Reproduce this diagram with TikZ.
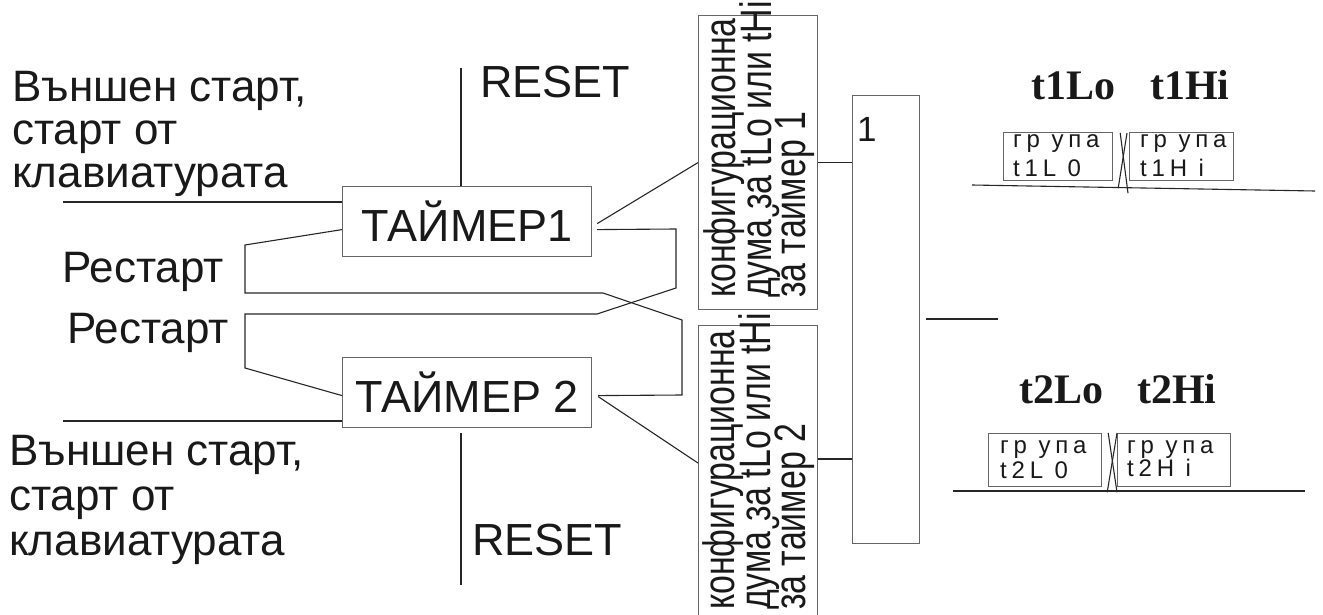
\documentclass[tikz,border=0pt]{standalone}
\usepackage{graphicx}
\usepackage{fontspec}
\setmainfont{Liberation Sans}
\newfontfamily\serifb{Liberation Serif}
\newfontfamily\spaced[LetterSpace=20]{Liberation Sans}
\usetikzlibrary{calc}
\begin{document}
\begin{tikzpicture}[x=1pt,y=-1pt,
  box/.style={draw=black!60, line width=1.2pt, inner sep=0pt, anchor=north west},
  wire/.style={draw=black!85, line width=1.1pt},
  lbl/.style={inner sep=0pt, anchor=base west, text=black!90},
  big/.style={lbl, font=\fontsize{44}{47}\selectfont},
  cfg/.style={lbl, rotate=90, font=\fontsize{44}{48}\selectfont},
  small/.style={lbl, font=\spaced\fontsize{24}{28}\selectfont},
  head/.style={lbl, font=\serifb\bfseries\fontsize{42}{46}\selectfont}]
\useasboundingbox (0,0) rectangle (1323,615);

% main boxes
\node[box, minimum width=249pt, minimum height=70pt, font=\fontsize{45}{48}\selectfont, text=black!90] (t1) at (342,186) {ТАЙМЕР1};
\node[box, minimum width=249pt, minimum height=70pt, font=\fontsize{45}{48}\selectfont, text=black!90] (t2) at (342,357) {ТАЙМЕР 2};
\node[box, minimum width=119pt, minimum height=294pt] (c1) at (698,15) {};
\node[box, minimum width=119pt, minimum height=300pt] (c2) at (698,325) {};
\node[box, minimum width=67pt, minimum height=448pt] (or) at (852,95) {};
\node[lbl, font=\fontsize{35}{38}\selectfont] (orl) at (857,142) {1};

% config box texts
\node[cfg] (c1a) at (735,298) {\scalebox{0.77}[1]{конфигурационна}};
\node[cfg] (c1b) at (771,298) {\scalebox{0.77}[1]{дума за tLo или tHi}};
\node[cfg] (c1c) at (805,298) {\scalebox{0.77}[1]{за таймер 1}};
\node[cfg] (c2a) at (734,610) {\scalebox{0.77}[1]{конфигурационна}};
\node[cfg] (c2b) at (770,610) {\scalebox{0.77}[1]{дума за tLo или tHi}};
\node[cfg] (c2c) at (805,610) {\scalebox{0.77}[1]{за таймер 2}};

% left labels
\node[big] (s1a) at (12,102) {Външен старт,};
\node[big] (s1b) at (12,145) {старт от};
\node[big] (s1c) at (12,188) {клавиатурата};
\node[big] (s2a) at (9,465) {Външен старт,};
\node[big] (s2b) at (9,510) {старт от};
\node[big] (s2c) at (9,555) {клавиатурата};
\node[big] (rs1) at (62,282) {Рестарт};
\node[big] (rs2) at (67,343) {Рестарт};
\node[lbl, font=\fontsize{45}{48}\selectfont] (re1) at (480,98) {RESET};
\node[lbl, font=\fontsize{45}{48}\selectfont] (re2) at (472,555) {RESET};

% right side displays
\node[head] (h1) at (1031,100) {t1Lo\hspace{35pt}t1Hi};
\node[head] (h2) at (1019,403) {t2Lo\hspace{34pt}t2Hi};
\node[box, minimum width=109pt, minimum height=48pt] (a1) at (1003,132) {};
\node[box, minimum width=104pt, minimum height=48pt] (b1) at (1129,132) {};
\node[box, minimum width=113pt, minimum height=53pt] (a2) at (988,433) {};
\node[box, minimum width=113pt, minimum height=53pt] (b2) at (1117,433) {};
\node[small] (a1t) at (1013,148) {гр упа};
\node[small] (a1u) at (1013,177) {t1L 0};
\node[small] (b1t) at (1140,148) {гр упа};
\node[small] (b1u) at (1140,177) {t1H i};
\node[small] (a2t) at (1000,453) {гр упа};
\node[small] (a2u) at (1000,478) {t2L 0};
\node[small] (b2t) at (1127,453) {гр упа};
\node[small] (b2u) at (1127,476) {t2H i};

% free ends
\coordinate (in1) at (63,202);
\coordinate (in2) at (63,421);
\coordinate (r1) at (461,68);
\coordinate (r2) at (461,585);
\coordinate (out) at (998,319);
\coordinate (g1a) at (972,185);
\coordinate (g1b) at (1315,191);
\coordinate (g2a) at (953,491);
\coordinate (g2b) at (1305,491);

% connectors
\draw[wire] (in1) -- (in1 -| t1.west);
\draw[wire] (in2) -- (in2 -| t2.west);
\draw[wire] (r1) -- (r1 |- t1.north);
\draw[wire] (r2) -- ([yshift=-5pt]r2 |- t2.south);
\draw[wire] ($(t1.east)+(5,2)$) -- (c1.west);
\draw[wire] ($(t1.east)+(5,8)$) -- (676,229) -- (676,288) -- (597,314) -- (245,314) -- (245,368) -- ($(t2.west)+(0,3)$);
\draw[wire] ($(t2.east)+(6,3)$) -- (682,395) -- (682,320) -- (603,293) -- (245,293) -- (245,245) -- ($(t1.west)+(0,8)$);
\draw[wire] ($(t2.east)+(6,4)$) -- ($(c2.north west)+(0,138)$);
\draw[wire] (c1.east) -- (c1.east -| or.west);
\draw[wire] ($(c2.north east)+(0,134)$) coordinate (c2o) -- (c2o -| or.west);
\draw[wire] ($(or.east |- out)+(6,0)$) -- (out);
\draw[wire] ($(a1.north east)+(7,1)$) -- ($(b1.south west)+(-1,12)$);
\draw[wire] ($(b1.north west)+(-2,1)$) -- ($(a1.south east)+(5,7)$);
\draw[wire] ($(a2.north east)+(6,0)$) -- ($(b2.south west)+(0,5)$);
\draw[wire] (b2.north west) -- ($(a2.south east)+(5,5)$);
\draw[wire] (g1a) -- (g1b);
\draw[wire] (g2a) -- (g2b);
\end{tikzpicture}
\end{document}
